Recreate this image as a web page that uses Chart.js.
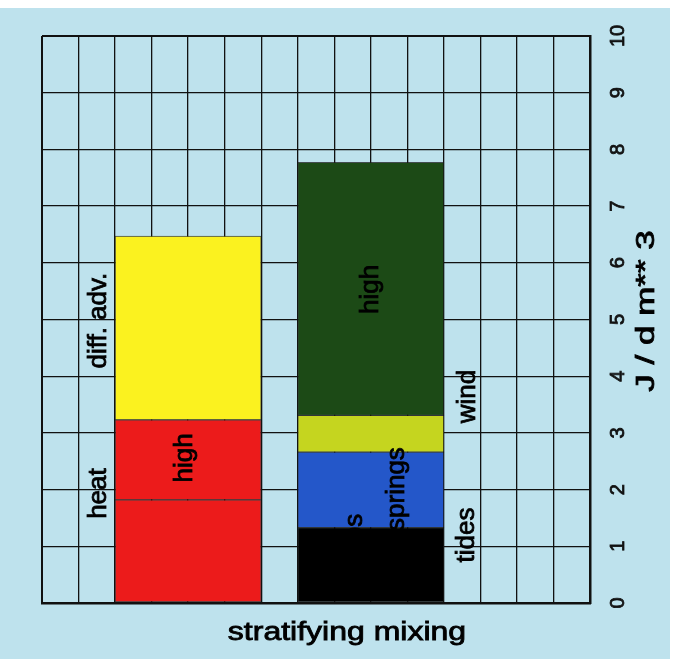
<!DOCTYPE html>
<html lang="en">
<head>
<meta charset="UTF-8">
<title>stratifying mixing</title>
<style>
  body { margin: 0; background: #fff; }
  .wrap { position: relative; width: 676px; height: 659px; }
  .paper { position: absolute; left: 0; top: 8px; width: 670px; height: 651px; background: #bee2ed; }
  #chart { position: absolute; left: 0; top: 0; }
</style>
</head>
<body>
<div class="wrap">
  <div class="paper"></div>
  <canvas id="chart" width="676" height="659"></canvas>
</div>
<script src="https://cdn.jsdelivr.net/npm/chart.js"></script>
<script>
// grid columns (0..15) on which the two stacked bars are centred
const barColumns = [4, 9];

// stratifying bar, bottom to top
const stratNames = ['heat', 'heat high', 'diff. adv.'];
const stratValues = [1.82, 1.41, 3.24];
const stratColors = ['#ec1b1b', '#ec1b1b', '#fbf21f'];

// mixing bar, bottom to top
const mixNames = ['tides', 'springs', 'wind', 'wind high'];
const mixValues = [1.33, 1.33, 0.65, 4.46];
const mixColors = ['#000000', '#2457c9', '#c5d51f', '#1c4a16'];

// rotated notes: text, grid column, value level
const noteText = ['heat', 'diff. adv.', 'high', 'high', 'neaps', 'springs', 'tides', 'wind'];
const noteColumn = [1.55, 1.55, 3.9, 9, 8.57, 9.72, 11.63, 11.66];
const noteLevel = [1.93, 4.98, 2.56, 5.53, 0.95, 2.01, 1.2, 3.64];

const FONT = '"Liberation Sans", Arial, sans-serif';

const datasets = [];
stratNames.forEach((name, i) => {
  datasets.push({
    label: name,
    data: [{ x: barColumns[0], y: stratValues[i] }, { x: barColumns[1], y: null }],
    backgroundColor: stratColors[i]
  });
});
mixNames.forEach((name, i) => {
  datasets.push({
    label: name,
    data: [{ x: barColumns[0], y: null }, { x: barColumns[1], y: mixValues[i] }],
    backgroundColor: mixColors[i]
  });
});

// filled + lightly stroked so the glyphs come out a bit heavier
function drawText(ctx, text, x, y, rot, size, stretch, baseline) {
  ctx.save();
  ctx.translate(x, y);
  ctx.rotate(rot);
  ctx.scale(stretch, 1);
  ctx.font = size + 'px ' + FONT;
  ctx.textAlign = 'center';
  ctx.textBaseline = baseline;
  ctx.fillText(text, 0, 0);
  ctx.lineWidth = 0.8;
  ctx.strokeText(text, 0, 0);
  ctx.restore();
}

const notesPlugin = {
  id: 'notes',
  afterDatasetsDraw(chart) {
    const { ctx, chartArea, scales: { x, y } } = chart;
    ctx.save();
    ctx.fillStyle = '#000';
    ctx.strokeStyle = '#000';
    noteText.forEach((t, i) => {
      drawText(ctx, t, x.getPixelForValue(noteColumn[i]), y.getPixelForValue(noteLevel[i]),
        -Math.PI / 2, 26, 1, 'middle');
    });
    // caption under the grid
    drawText(ctx, 'stratifying mixing', chartArea.left + 305, chartArea.bottom + 37, 0, 25, 1.28, 'alphabetic');
    // value axis title, reading upwards
    drawText(ctx, 'J / d m** 3', chartArea.right + 57, (chartArea.top + chartArea.bottom) / 2 - 8.5,
      -Math.PI / 2, 25, 1.4, 'middle');
    ctx.restore();
  }
};

function edgeWidth(last) {
  return (c) => (c.tick && (c.tick.value === 0 || c.tick.value === last)) ? 2 : 1.3;
}

new Chart(document.getElementById('chart'), {
  type: 'bar',
  data: { datasets },
  options: {
    responsive: false,
    animation: false,
    layout: { padding: { left: 42, top: 36 } },
    plugins: { legend: { display: false }, tooltip: { enabled: false } },
    datasets: {
      bar: {
        barThickness: 'flex',
        categoryPercentage: 0.8,
        barPercentage: 1,
        borderColor: 'rgba(25,25,25,0.75)',
        borderWidth: 1,
        borderSkipped: false
      }
    },
    scales: {
      x: {
        type: 'linear',
        min: 0,
        max: 15,
        offset: false,
        stacked: true,
        grid: { color: '#111', lineWidth: edgeWidth(15), drawTicks: false, offset: false },
        border: { display: true, color: '#111', width: 2.5, z: 1 },
        ticks: { display: false, stepSize: 1 },
        afterFit: (s) => { s.height = 56; }
      },
      y: {
        type: 'linear',
        position: 'right',
        min: 0,
        max: 10,
        stacked: true,
        grid: { color: '#111', lineWidth: edgeWidth(10), drawTicks: false },
        border: { display: true, color: '#111', width: 2.5, z: 1 },
        ticks: {
          stepSize: 1,
          minRotation: 90,
          maxRotation: 90,
          crossAlign: 'center',
          padding: 17,
          color: '#111',
          textStrokeColor: '#111',
          textStrokeWidth: 0.8,
          font: { family: FONT, size: 20 }
        },
        afterFit: (s) => { s.width = 86; }
      }
    }
  },
  plugins: [notesPlugin]
});
</script>
</body>
</html>
